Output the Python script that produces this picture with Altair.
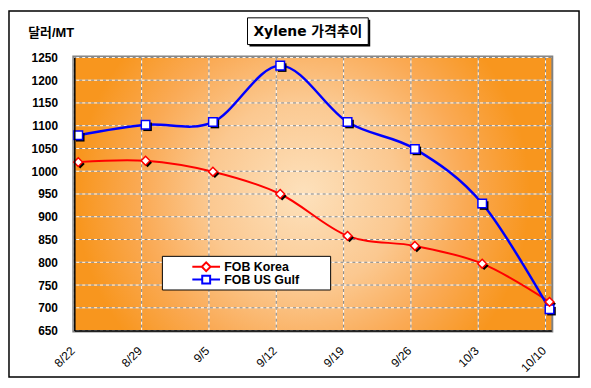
import altair as alt
import pandas as pd

# ---- data ----
dates = ["8/22", "8/29", "9/5", "9/12", "9/19", "9/26", "10/3", "10/10"]
korea = [1020, 1023, 999, 950, 858, 836, 797, 713]
gulf = [1079, 1102, 1108, 1232, 1108, 1049, 929, 697]
series_names = ["FOB Korea", "FOB US Gulf"]
series_colors = ["#FF0000", "#0000FF"]
y_ticks = list(range(650, 1251, 50))
title_text = "Xylene 가격추이"
y_title = "달러/MT"

day = [7 * i for i in range(len(dates))]
df = pd.DataFrame({
    "day": day * 2,
    "date": dates * 2,
    "price": korea + gulf,
    "series": [series_names[0]] * len(dates) + [series_names[1]] * len(dates),
})

FONT = "Liberation Sans, Arial, Noto Sans CJK KR"
TFONT = "DejaVu Sans, Noto Sans CJK KR"
W, H = 482, 276

xscale = alt.Scale(domain=[0, 49.6], nice=False, zero=False)
yscale = alt.Scale(domain=[650, 1250], nice=False, zero=False)
label_expr = "[" + ",".join("'%s'" % d for d in dates) + "][round(datum.value/7)]"

xaxis = alt.Axis(values=day, labelExpr=label_expr, grid=False, ticks=False,
                 domainColor="black", domainWidth=1.5, labelAngle=-45,
                 labelAlign="right", labelBaseline="middle", labelPadding=18,
                 labelOffset=-2,
                 labelFont=FONT, labelFontSize=12, labelColor="black",
                 labelOverlap=False, labelFlush=False, labelBound=False,
                 title=None, zindex=1)
yaxis = alt.Axis(values=y_ticks, format="d", grid=False, ticks=False, domainColor="black",
                 domainWidth=1.5, labelFont=FONT, labelFontSize=12,
                 labelFontWeight="bold", labelColor="black", labelPadding=17,
                 title=y_title, titleAngle=0, titleX=-47, titleY=-25,
                 titleAlign="left", titleBaseline="middle", titleFont=FONT,
                 titleFontSize=13, titleFontWeight="bold", titleColor="black",
                 zindex=1)

X = alt.X("day:Q", scale=xscale, axis=xaxis)
Y = alt.Y("price:Q", scale=yscale, axis=yaxis)

one = alt.Data(values=[{}])

# outer frame and title box
frame = alt.Chart(one).mark_rect(filled=False, color="black", strokeWidth=1.5).encode(
    x=alt.value(-66), x2=alt.value(510), y=alt.value(-47), y2=alt.value(323))
title_shadow = alt.Chart(one).mark_rect(color="black").encode(
    x=alt.value(177), x2=alt.value(299), y=alt.value(-38), y2=alt.value(-11))
title_box = alt.Chart(one).mark_rect(fill="white", stroke="black", strokeWidth=1).encode(
    x=alt.value(175), x2=alt.value(297), y=alt.value(-40), y2=alt.value(-13))
title_lbl = alt.Chart(one).mark_text(text=title_text, font=TFONT, fontSize=14,
                                     fontWeight="bold", color="black",
                                     align="center", baseline="middle").encode(
    x=alt.value(236), y=alt.value(-26))

# gradient plot background
grad = {
    "gradient": "radial",
    "x1": 0.48, "y1": 0.5, "r1": 0,
    "x2": 0.48, "y2": 0.5, "r2": 0.5,
    "stops": [
        {"offset": 0, "color": "#FDE1BC"},
        {"offset": 0.4, "color": "#FBC890"},
        {"offset": 0.68, "color": "#FAAA55"},
        {"offset": 0.95, "color": "#F8961E"},
        {"offset": 1, "color": "#F8961E"},
    ],
}
bg = alt.Chart(one).mark_rect(color=grad).encode(
    x=alt.value(0), x2=alt.value("width"), y=alt.value(0), y2=alt.value("height"))

# grid lines
vdf = pd.DataFrame({"day": day})
hdf = pd.DataFrame({"price": y_ticks})
vgrid_w = alt.Chart(vdf).mark_rule(color="white", strokeWidth=1).encode(x=X)
vgrid_d = alt.Chart(vdf).mark_rule(color="#7F7F7F", strokeWidth=1, strokeDash=[3, 3]).encode(x=X)
hgrid_w = alt.Chart(hdf).mark_rule(color="white", strokeWidth=1).encode(y=Y)
hgrid_d = alt.Chart(hdf).mark_rule(color="#7F7F7F", strokeWidth=1, strokeDash=[3, 3]).encode(y=Y)

kdf = df[df.series == series_names[0]]
gdf = df[df.series == series_names[1]]

line_k = alt.Chart(kdf).mark_line(color=series_colors[0], strokeWidth=2,
                                  interpolate="cardinal", xOffset=4).encode(x=X, y=Y)
line_g = alt.Chart(gdf).mark_line(color=series_colors[1], strokeWidth=2.5,
                                  interpolate="cardinal", xOffset=4).encode(x=X, y=Y)

sh_k = alt.Chart(kdf).mark_point(shape="diamond", filled=True, color="black", opacity=1,
                                 size=80, xOffset=6, yOffset=2).encode(x=X, y=Y)
sh_g = alt.Chart(gdf).mark_point(shape="square", filled=True, color="black", opacity=1,
                                 size=75, xOffset=6, yOffset=2).encode(x=X, y=Y)
pt_k = alt.Chart(kdf).mark_point(shape="diamond", filled=True, fill="white",
                                 stroke=series_colors[0], strokeWidth=1.5, opacity=1,
                                 size=80, xOffset=4).encode(x=X, y=Y)
pt_g = alt.Chart(gdf).mark_point(shape="square", filled=True, fill="white",
                                 stroke=series_colors[1], strokeWidth=1.5, opacity=1,
                                 size=75, xOffset=4).encode(x=X, y=Y)

# legend box + legend (from an empty layer whose scales are given explicitly)
legend_box = alt.Chart(one).mark_rect(fill="white", stroke="black", strokeWidth=1).encode(
    x=alt.value(89), x2=alt.value(259), y=alt.value(201), y2=alt.value(235))
legend_paths = [
    "M-3.5,0H-1.1M1.1,0H3.5M0,-1.1L1.1,0L0,1.1L-1.1,0Z",
    "M-3.5,0H-1M1,0H3.5M-1,-1H1V1H-1Z",
]
leg = alt.Legend(orient="none", legendX=89, legendY=199, title=None,
                 padding=6, symbolOffset=32, labelOffset=12, symbolSize=64,
                 symbolStrokeWidth=2, symbolFillColor="white", rowPadding=0,
                 clipHeight=13,
                 labelFont=FONT, labelFontSize=12.5, labelFontWeight="bold",
                 labelColor="black")
legend_layer = alt.Chart(df).transform_filter("false").mark_point(
    filled=True, fill="white", opacity=1, strokeWidth=2).encode(
    x=X, y=Y,
    stroke=alt.Stroke("series:N", scale=alt.Scale(domain=series_names, range=series_colors), legend=leg),
    shape=alt.Shape("series:N", scale=alt.Scale(domain=series_names, range=legend_paths), legend=leg),
)

chart = alt.layer(
    frame, title_shadow, title_box, title_lbl, bg,
    vgrid_w, vgrid_d, hgrid_w, hgrid_d,
    line_k, line_g, sh_k, sh_g, pt_g, pt_k, legend_box, legend_layer,
).properties(
    width=W, height=H,
    autosize=alt.AutoSizeParams(type="none"),
    padding={"left": 67, "top": 48, "right": 32, "bottom": 48},
    background="white",
).configure_view(stroke="#808080", strokeWidth=4)

chart.save("out.html", embed_options={"renderer": "svg", "actions": False})
